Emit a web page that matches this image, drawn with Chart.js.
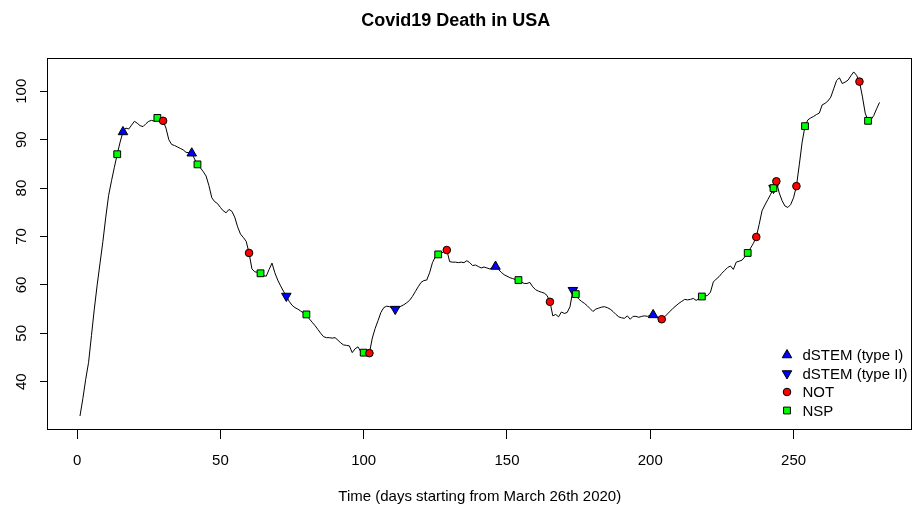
<!DOCTYPE html>
<html>
<head>
<meta charset="utf-8">
<script src="https://cdn.jsdelivr.net/npm/chart.js"></script>
<style>
  html, body { margin: 0; padding: 0; background: #fff; }
  canvas { display: block; }
</style>
</head>
<body>
<canvas id="c" width="913" height="510"></canvas>
<script>
// ---- data ----
const deaths = [
  32.9, 36.5, 40.5, 44.0, 49.5, 55.0, 60.0, 64.5, 69.0, 74.0,
  78.5, 81.5, 84.3, 87.0, 89.5, 91.6, 92.4, 92.2, 93.0, 93.8,
  93.4, 92.9, 92.7, 93.3, 93.8, 94.0, 93.8, 94.5, 94.4, 93.9,
  92.4, 90.0, 89.0, 88.8, 88.5, 88.2, 87.9, 87.4, 87.3, 87.2,
  86.0, 84.9, 84.2, 83.4, 82.5, 80.5, 78.0, 77.2, 76.8, 76.0,
  75.3, 74.9, 75.6, 75.2, 74.0, 72.0, 70.5, 69.8, 69.0, 66.6,
  63.3, 62.7, 62.6, 62.4, 61.9, 61.8, 63.2, 64.5, 62.5, 61.0,
  59.8, 58.7, 57.7, 56.6, 55.8, 55.3, 55.0, 54.6, 54.2, 53.9,
  53.0, 52.3, 51.6, 50.8, 50.0, 49.3, 49.1, 49.1, 49.0, 49.1,
  48.6, 48.0, 47.6, 47.5, 47.4, 46.0, 46.8, 47.2, 46.2, 46.0,
  46.0, 45.9, 49.0, 51.0, 52.6, 54.3, 55.3, 55.6, 55.5, 55.2,
  55.0, 55.3, 55.6, 55.9, 56.3, 56.8, 57.6, 58.6, 59.6, 60.5,
  60.9, 61.0, 62.5, 64.6, 65.8, 66.3, 66.5, 66.9, 67.2, 64.8,
  64.7, 64.7, 64.6, 64.7, 64.6, 65.0, 64.6, 64.0, 64.1, 63.8,
  63.5, 63.7, 63.5, 63.3, 63.5, 63.8, 63.2, 62.6, 62.1, 61.8,
  61.5, 61.3, 61.1, 61.0, 60.6, 60.3, 60.3, 60.5, 59.6, 59.0,
  58.7, 58.5, 58.3, 57.8, 56.5, 53.6, 53.9, 53.4, 54.4, 54.1,
  54.3, 55.5, 58.9, 58.1, 57.1, 56.6, 56.2, 55.7, 55.1, 54.5,
  55.0, 55.2, 55.4, 55.5, 55.3, 55.0, 54.5, 53.9, 53.4, 53.2,
  53.1, 53.6, 52.9, 53.5, 53.5, 53.3, 53.5, 53.6, 53.5, 53.7,
  53.8, 53.4, 53.0, 52.9, 53.4, 54.0, 54.6, 55.2, 55.7, 56.2,
  56.6, 57.0, 56.9, 57.0, 57.2, 56.8, 57.1, 57.6, 57.7, 57.8,
  58.5, 60.6, 61.2, 61.7, 62.4, 63.0, 63.6, 63.9, 63.2, 64.7,
  64.9, 65.1, 65.8, 66.6, 67.6, 68.6, 69.9, 72.5, 75.3, 76.5,
  77.6, 78.7, 80.0, 81.4, 79.0, 77.4, 76.3, 76.0, 76.6, 78.0,
  80.4, 84.8, 89.5, 92.8, 94.1, 94.5, 94.8, 95.2, 95.5, 97.2,
  97.5, 98.0, 98.8, 100.5, 102.2, 102.8, 101.6, 101.9, 102.3, 103.2,
  104.0, 103.3, 102.0, 99.0, 95.5, 93.9, 94.1, 95.0, 96.4, 97.7
];
const days = deaths.map((_, i) => i + 1);

// change-point days found by each method
const dstem1Days = [16, 40, 146, 201];
const dstem2Days = [73, 111, 173, 243];
const notDays = [30, 60, 102, 129, 165, 204, 237, 244, 251, 273];
const nspDays = [14, 28, 42, 64, 80, 100, 126, 154, 174, 218, 234, 243, 254, 276];

const xTicks = [0, 50, 100, 150, 200, 250];
const yTicks = [40, 50, 60, 70, 80, 90, 100];

const chartTitle = 'Covid19 Death in USA';
const xTitle = 'Time (days starting from March 26th 2020)';

// ---- build ----
const FONT = "'Liberation Sans', Arial, Helvetica, sans-serif";
const pts = ds => ds.map(d => ({ x: d, y: deaths[d - 1] }));

const datasets = [
  {
    type: 'line', label: 'series', data: days.map((d, i) => ({ x: d, y: deaths[i] })),
    borderColor: '#000', borderWidth: 1, pointRadius: 0, fill: false, tension: 0, order: 4
  },
  {
    label: 'dSTEM (type I)', data: pts(dstem1Days), pointStyle: 'triangle', rotation: 0,
    pointRadius: 5.5, backgroundColor: '#0000FF', borderColor: '#000', borderWidth: 1, order: 3
  },
  {
    label: 'dSTEM (type II)', data: pts(dstem2Days), pointStyle: 'triangle', rotation: 180,
    pointRadius: 5.5, backgroundColor: '#0000FF', borderColor: '#000', borderWidth: 1, order: 2
  },
  {
    label: 'NOT', data: pts(notDays), pointStyle: 'circle',
    pointRadius: 3.8, backgroundColor: '#FF0000', borderColor: '#000', borderWidth: 1, order: 0
  },
  {
    label: 'NSP', data: pts(nspDays), pointStyle: 'rect',
    pointRadius: 4.8, backgroundColor: '#00FF00', borderColor: '#000', borderWidth: 1, order: 1
  }
];

function drawMarker(ctx, style, rotation, r, x, y, fill) {
  ctx.save();
  ctx.beginPath();
  if (style === 'circle') {
    ctx.arc(x, y, r, 0, Math.PI * 2);
  } else if (style === 'rect') {
    const s = Math.SQRT1_2 * r;
    ctx.rect(x - s, y - s, 2 * s, 2 * s);
  } else {
    let rad = rotation * Math.PI / 180;
    ctx.moveTo(x + Math.sin(rad) * r, y - Math.cos(rad) * r);
    rad += 2 * Math.PI / 3;
    ctx.lineTo(x + Math.sin(rad) * r, y - Math.cos(rad) * r);
    rad += 2 * Math.PI / 3;
    ctx.lineTo(x + Math.sin(rad) * r, y - Math.cos(rad) * r);
    ctx.closePath();
  }
  ctx.fillStyle = fill;
  ctx.fill();
  ctx.lineWidth = 1;
  ctx.strokeStyle = '#000';
  ctx.stroke();
  ctx.restore();
}

const framePlugin = {
  id: 'frame',
  afterDatasetsDraw(chart) {
    const a = chart.chartArea, ctx = chart.ctx;
    ctx.save();
    ctx.strokeStyle = '#000';
    ctx.lineWidth = 1;
    const l = Math.round(a.left) - 0.5, t = Math.round(a.top) + 0.5;
    const r = Math.round(a.right) - 0.5, b = Math.round(a.bottom) - 0.5;
    ctx.strokeRect(l, t, r - l, b - t);
    ctx.restore();
  }
};

const legendPlugin = {
  id: 'rLegend',
  afterDraw(chart) {
    const a = chart.chartArea, ctx = chart.ctx;
    const items = chart.data.datasets.slice(1);
    const mx = a.right - 124.5;
    const tx = a.right - 109;
    const y0 = a.bottom - 75;
    const step = 18.5;
    ctx.save();
    ctx.font = '15px ' + FONT;
    ctx.fillStyle = '#000';
    ctx.textBaseline = 'middle';
    ctx.textAlign = 'left';
    items.forEach((ds, i) => {
      const y = y0 + i * step;
      drawMarker(ctx, ds.pointStyle, ds.rotation || 0, ds.pointRadius, mx, y, ds.backgroundColor);
      ctx.fillStyle = '#000';
      ctx.fillText(ds.label, tx, y + 1);
    });
    ctx.restore();
  }
};

new Chart(document.getElementById('c'), {
  type: 'scatter',
  data: { datasets },
  options: {
    responsive: false,
    animation: false,
    devicePixelRatio: 1,
    layout: { autoPadding: false, padding: { left: 0, right: 1.5, top: 0, bottom: 0 } },
    plugins: {
      legend: { display: false },
      tooltip: { enabled: false },
      title: {
        display: true, text: chartTitle, color: '#000',
        font: { family: FONT, size: 18, weight: 'bold' },
        padding: { top: 10, bottom: 26.1 }
      }
    },
    scales: {
      x: {
        type: 'linear', min: -10.16, max: 291.16,
        afterBuildTicks: s => { s.ticks = xTicks.map(v => ({ value: v })); },
        afterFit: s => { s.height = 80; s.paddingLeft = 0; s.paddingRight = 0; },
        grid: { display: true, drawOnChartArea: false, drawTicks: true, tickLength: 9, tickColor: '#000', tickWidth: 1 },
        border: { display: false },
        ticks: { color: '#000', font: { family: FONT, size: 15 }, padding: 13, maxRotation: 0, minRotation: 0 },
        title: { display: true, text: xTitle, color: '#000', font: { family: FONT, size: 15 }, padding: { top: 0, bottom: 4.5 } }
      },
      y: {
        type: 'linear', min: 30.02, max: 106.94,
        afterBuildTicks: s => { s.ticks = yTicks.map(v => ({ value: v })); },
        afterFit: s => { s.width = 48; s.paddingTop = 0; s.paddingBottom = 0; },
        grid: { display: true, drawOnChartArea: false, drawTicks: true, tickLength: 8, tickColor: '#000', tickWidth: 1 },
        border: { display: false },
        ticks: { color: '#000', font: { family: FONT, size: 15 }, padding: 6, minRotation: 90, maxRotation: 90, crossAlign: 'center' }
      }
    }
  },
  plugins: [framePlugin, legendPlugin]
});
</script>
</body>
</html>
